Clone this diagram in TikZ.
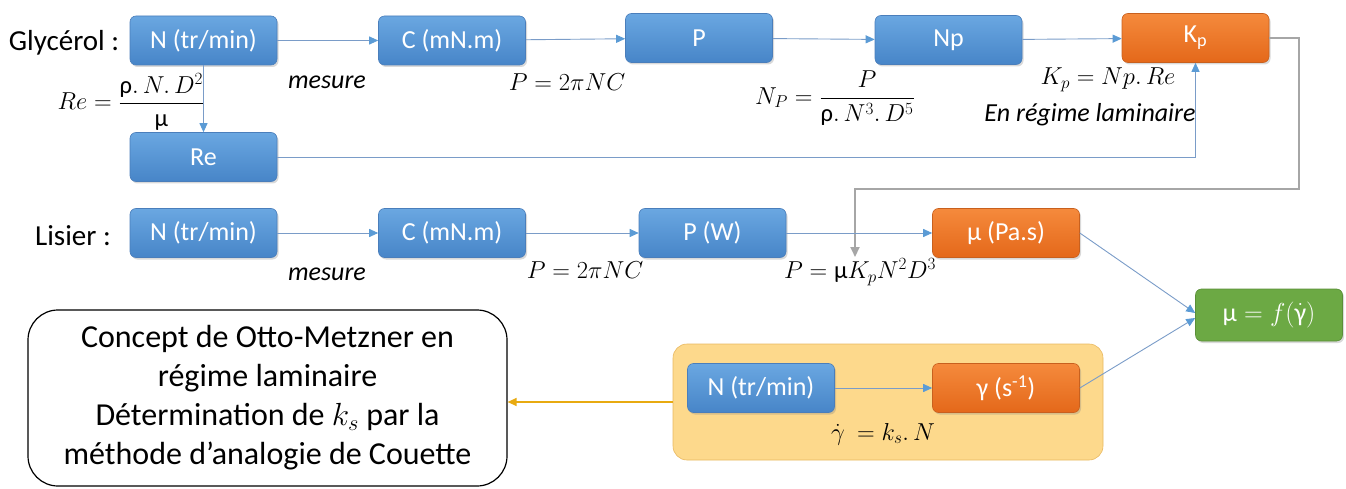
\RequirePackage{fix-cm}
\documentclass[tikz,border=0pt]{standalone}
\usepackage[no-math]{fontspec}
\setmainfont{Carlito}
\usepackage{amsmath}
\usetikzlibrary{arrows.meta,shadows,calc}
\definecolor{bluetop}{HTML}{6AA7E1}
\definecolor{bluebot}{HTML}{4785C8}
\definecolor{blueedge}{HTML}{4A7EBB}
\definecolor{orangetop}{HTML}{F58A3C}
\definecolor{orangebot}{HTML}{E4681A}
\definecolor{orangeedge}{HTML}{C8601E}
\definecolor{greenfill}{HTML}{6CA944}
\definecolor{greenedge}{HTML}{5A8F38}
\definecolor{yellowfill}{HTML}{FDD98C}
\definecolor{yellowedge}{HTML}{E8B860}
\definecolor{connc}{HTML}{7A9CC8}
\definecolor{tipc}{HTML}{5B9BD5}
\definecolor{loopc}{HTML}{A6A6A6}
\definecolor{goldc}{HTML}{E8AA10}
\begin{document}
\begin{tikzpicture}[x=1pt,y=-1pt,
  box/.style={rounded corners=6pt, minimum width=147pt, minimum height=49pt, inner sep=0pt,
    text=white, font=\fontsize{26}{30}\selectfont,
    drop shadow={opacity=0.3,shadow xshift=1.5pt,shadow yshift=-2pt}},
  bluebox/.style={box, top color=bluetop, bottom color=bluebot, draw=blueedge, line width=0.6pt},
  orangebox/.style={box, top color=orangetop, bottom color=orangebot, draw=orangeedge, line width=0.6pt},
  greenbox/.style={box, fill=greenfill, draw=greenedge, line width=0.6pt, minimum height=52pt},
  conn/.style={draw=connc, line width=0.9pt, -{Triangle[length=9pt,width=8pt,color=tipc]}},
  loopline/.style={draw=loopc, line width=2pt, -{Triangle[length=10pt,width=9pt]}},
  lab/.style={font=\fontsize{24.5}{29}\selectfont, inner sep=0pt},
  itlab/.style={font=\fontsize{26}{30}\selectfont\itshape, inner sep=0pt},
  title/.style={font=\fontsize{29}{34}\selectfont, inner sep=0pt}
]
\useasboundingbox (0,0) rectangle (1346,489);

% titles
\node[title] (tg) at (64,43) {Glycérol :};
\node[title] (tl) at (73,236) {Lisier :};

% Glycerol row
\node[bluebox] (gN) at (203.5,40.5) {N (tr/min)};
\node[bluebox] (gC) at (452,40.5) {C (mN.m)};
\node[bluebox] (gP) at (699,38) {P};
\node[bluebox] (gNp) at (948.5,40) {Np};
\node[orangebox] (gKp) at (1195.5,38) {K\textsubscript{p}};
\node[bluebox] (gRe) at (203.5,157) {Re};

% Lisier row
\node[bluebox] (lN) at (203.5,233) {N (tr/min)};
\node[bluebox] (lC) at (452,233) {C (mN.m)};
\node[bluebox] (lP) at (712.5,233) {P (W)};
\node[orangebox] (lmu) at (1006,233) {μ (Pa.s)};
\node[greenbox] (gr) at (1269,315) {$\text{μ} = f(\dot{\text{γ}})$};

% bottom group
\node[draw=yellowedge, fill=yellowfill, rounded corners=14pt, line width=0.6pt,
      minimum width=430pt, minimum height=116pt, inner sep=0pt] (yb) at (888,402) {};
\node[bluebox] (bN) at (761,388) {N (tr/min)};
\node[orangebox] (bg) at (1006,388) {γ (s\textsuperscript{-1})};
\node[lab] (fg) at (883,434) {$\dot{\gamma}\ = k_s.\,N$};

\node[draw=black, line width=1.2pt, rounded corners=30pt, minimum width=479pt, minimum height=176pt,
      inner sep=0pt, align=center, font=\fontsize{32}{39}\selectfont] (cp) at (267.5,398)
  {Concept de Otto-Metzner en\\régime laminaire\\Détermination de $k_s$ par la\\méthode d’analogie de Couette};

% labels
\node[lab] (fre) at (131,102) {$Re = \dfrac{\text{ρ}.\,N.\,D^2}{\text{μ}}$};
\node[itlab] (m1) at (327,82) {mesure};
\node[lab] (p1) at (567,82) {$P = 2\pi N C$};
\node[lab] (fnp) at (835,98) {$N_P = \dfrac{P}{\text{ρ}.\,N^3.\,D^5}$};
\node[lab] (fkp) at (1108,80) {$K_p = Np.\,Re$};
\node[itlab] (enr) at (1090,115) {En régime laminaire};
\node[itlab] (m2) at (327,274) {mesure};
\node[lab] (p2) at (585,270) {$P = 2\pi N C$};
\node[lab] (p3) at (860,272) {$P = \text{μ} K_p N^2 D^3$};

% connectors row 1
\draw[conn] (gN) -- (gC);
\draw[conn] (gC) -- (gP);
\draw[conn] (gP) -- (gNp);
\draw[conn] (gNp) -- (gKp);
\draw[conn] (gN) -- (gRe);
\draw[conn] (gRe.east) -| (gKp.south);

% Kp loop
\coordinate (k1) at (1299,38);
\coordinate (k2) at (1299,189);
\coordinate (k3) at (855,189);
\coordinate (k4) at (855,257);
\draw[loopline] (gKp.east) -- (k1) -- (k2) -- (k3) -- (k4);

% connectors row 2
\draw[conn] (lN) -- (lC);
\draw[conn] (lC) -- (lP);
\draw[conn] (lP) -- (lmu);
\draw[conn] (lmu.east) -- ([yshift=2pt]gr.west);
\draw[conn] (bN) -- (bg);
\draw[conn] (bg.east) -- ([yshift=-3pt]gr.west);

% yellow to concept
\draw[draw=goldc, line width=1.3pt, -{Triangle[length=9pt,width=8pt]}] (yb.west) -- (yb.west -| cp.east);
\end{tikzpicture}
\end{document}
